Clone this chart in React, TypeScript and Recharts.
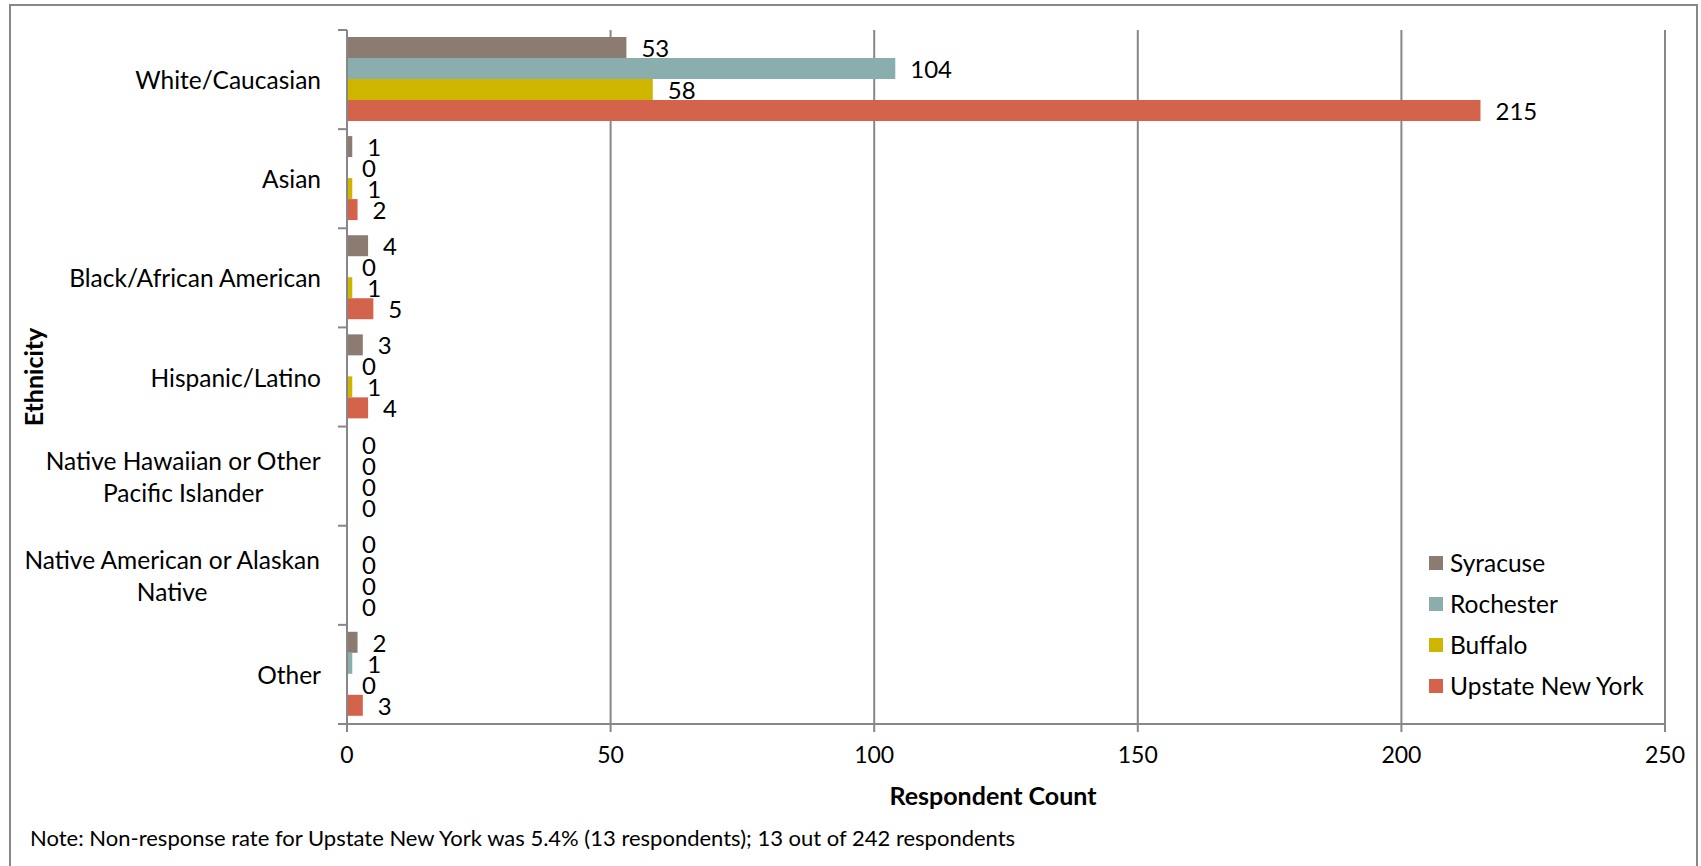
import React from 'react';
import { BarChart, Bar, XAxis, YAxis, CartesianGrid, LabelList } from 'recharts';

const categories = [
  'White/Caucasian',
  'Asian',
  'Black/African American',
  'Hispanic/Latino',
  'Native Hawaiian or Other Pacific Islander',
  'Native American or Alaskan Native',
  'Other',
];
const categoryLines: string[][] = [
  ['White/Caucasian'],
  ['Asian'],
  ['Black/African American'],
  ['Hispanic/Latino'],
  ['Native Hawaiian or Other', 'Pacific Islander'],
  ['Native American or Alaskan', 'Native'],
  ['Other'],
];
const syracuse = [53, 1, 4, 3, 0, 0, 2];
const rochester = [104, 0, 0, 0, 0, 0, 1];
const buffalo = [58, 1, 1, 1, 0, 0, 0];
const upstate = [215, 2, 5, 4, 0, 0, 3];
const xTicks = [0, 50, 100, 150, 200, 250];
const seriesNames = ['Syracuse', 'Rochester', 'Buffalo', 'Upstate New York'];
const seriesKeys = ['syracuse', 'rochester', 'buffalo', 'upstate'];
const colors = ['#8C7B70', '#8AADAE', '#CDB500', '#D3634B'];
const xTitle = 'Respondent Count';
const yTitle = 'Ethnicity';
const note = 'Note: Non-response rate for Upstate New York was 5.4% (13 respondents); 13 out of 242 respondents';

const data = categories.map((name, i) => ({
  name,
  syracuse: syracuse[i],
  rochester: rochester[i],
  buffalo: buffalo[i],
  upstate: upstate[i],
}));

const FONT = 'Lato, "Open Sans", sans-serif';
const GRAY = '#878787';
const W = 1701;
const H = 866;
const MARGIN = { top: 30, right: 36, bottom: 102, left: 0 };
const Y_AXIS_W = 347;
const X_AXIS_H = 40;
const PLOT_H = H - MARGIN.top - MARGIN.bottom - X_AXIS_H;
const BAND = PLOT_H / categories.length;
const CAT_FS = 24.5;
const XTICK_FS = 23;
const LABEL_FS = 24;

let ctx: CanvasRenderingContext2D | null = null;
function measure(text: string, font: string): number {
  if (!ctx) {
    const c = document.createElement('canvas');
    ctx = c.getContext('2d');
  }
  if (!ctx) return text.length * 11;
  ctx.font = font;
  return ctx.measureText(text).width;
}

const YTick = (props: any) => {
  const { y, payload } = props;
  const axisX = Y_AXIS_W;
  const idx = categories.indexOf(payload.value);
  const lines = categoryLines[idx] || [payload.value];
  const rightEdge = axisX - 26;
  const maxW = Math.max(...lines.map((l) => measure(l, `${CAT_FS}px Lato`)));
  const cx = rightEdge - maxW / 2;
  const lh = 32;
  const startY = y - ((lines.length - 1) * lh) / 2;
  return (
    <g>
      <line x1={axisX - 9} x2={axisX} y1={y - BAND / 2} y2={y - BAND / 2} stroke={GRAY} strokeWidth={2} />
      {idx === categories.length - 1 && (
        <line x1={axisX - 9} x2={axisX} y1={y + BAND / 2} y2={y + BAND / 2} stroke={GRAY} strokeWidth={2} />
      )}
      {lines.map((l, i) => (
        <text
          key={i}
          x={lines.length > 1 ? cx : rightEdge}
          y={startY + i * lh}
          textAnchor={lines.length > 1 ? 'middle' : 'end'}
          dominantBaseline="central"
          fontFamily={FONT}
          fontSize={CAT_FS}
          fill="#000"
        >
          {l}
        </text>
      ))}
    </g>
  );
};

const ValueLabel = (props: any) => {
  const { x, y, width, height, value } = props;
  return (
    <text
      x={Number(x) + Number(width || 0) + 15}
      y={Number(y) + Number(height) / 2}
      dominantBaseline="central"
      fontFamily={FONT}
      fontSize={LABEL_FS}
      fill="#000"
    >
      {value}
    </text>
  );
};

const Legend = () => (
  <div style={{ position: 'absolute', left: 1429, top: 542, fontFamily: FONT, fontSize: 24.5, color: '#000' }}>
    {seriesNames.map((n, i) => (
      <div key={n} style={{ display: 'flex', alignItems: 'center', height: 41 }}>
        <div style={{ width: 14, height: 14, background: colors[i], marginRight: 7 }} />
        <span>{n}</span>
      </div>
    ))}
  </div>
);

export default function App() {
  return (
    <div style={{ position: 'absolute', left: 0, top: 0, width: W, height: H, overflow: 'hidden', background: '#fff' }}>
      <div
        style={{
          position: 'absolute',
          left: 9,
          top: 4,
          width: W - 12,
          height: H,
          borderTop: `2px solid ${GRAY}`,
          borderLeft: `2px solid ${GRAY}`,
          borderRight: `2px solid ${GRAY}`,
          boxSizing: 'border-box',
        }}
      />
      <div style={{ position: 'absolute', left: 0, top: 0 }}>
        <BarChart
          width={W}
          height={H}
          data={data}
          layout="vertical"
          margin={MARGIN}
          barCategoryGap="7%"
          barGap={0}
        >
          <CartesianGrid horizontal={false} vertical={true} stroke={GRAY} strokeWidth={2} />
          <XAxis
            type="number"
            domain={[0, 250]}
            ticks={xTicks}
            height={X_AXIS_H}
            tickSize={8}
            tickMargin={15}
            axisLine={{ stroke: GRAY, strokeWidth: 2 }}
            tickLine={{ stroke: GRAY, strokeWidth: 2 }}
            tick={{ fontFamily: FONT, fontSize: XTICK_FS, fill: '#000' }}
            interval={0}
          />
          <YAxis
            type="category"
            dataKey="name"
            width={Y_AXIS_W}
            tickLine={false}
            axisLine={{ stroke: GRAY, strokeWidth: 2 }}
            tick={<YTick />}
            interval={0}
          />
          {seriesKeys.map((k, i) => (
            <Bar
              key={k}
              dataKey={k}
              name={seriesNames[i]}
              fill={colors[i]}
              isAnimationActive={false}
              minPointSize={0.01}
            >
              <LabelList dataKey={k} content={<ValueLabel />} />
            </Bar>
          ))}
          <text x={993} y={795} textAnchor="middle" dominantBaseline="central" fontFamily={FONT} fontSize={25} fontWeight="bold" fill="#000">
            {xTitle}
          </text>
          <text
            x={33}
            y={377}
            transform="rotate(-90 33 377)"
            textAnchor="middle"
            dominantBaseline="central"
            fontFamily={FONT}
            fontSize={25}
            fontWeight="bold"
            fill="#000"
          >
            {yTitle}
          </text>
          <text x={30} y={837} dominantBaseline="central" fontFamily={FONT} fontSize={22} fill="#000">
            {note}
          </text>
        </BarChart>
      </div>
      <Legend />
    </div>
  );
}
